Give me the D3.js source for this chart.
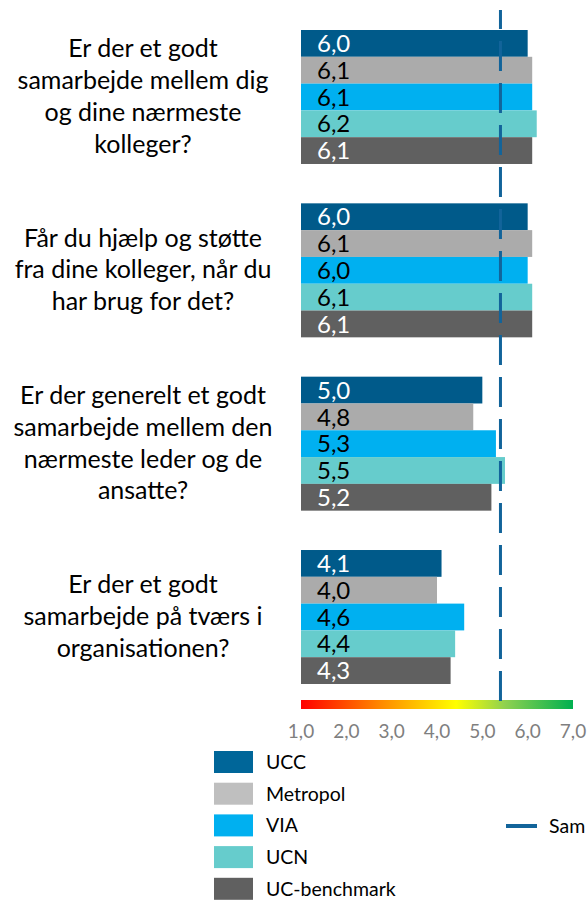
<!DOCTYPE html>
<html>
<head>
<meta charset="utf-8">
<script src="https://cdn.jsdelivr.net/npm/d3@7"></script>
<style>
    body { margin: 0; background: #fff; overflow: hidden; }
    svg { display: block; font-family: Lato, "Open Sans", sans-serif; }
    .question { font-size: 25px; fill: #000; }
    .bar-label { font-size: 24px; }
    .tick-label { font-size: 19px; fill: #7f7f7f; }
    .legend-label { font-size: 19.5px; fill: #000; }
</style>
</head>
<body>
<div class="chart"></div>
<script>
// data
const questions = [
    ["Er der et godt", "samarbejde mellem dig", "og dine nærmeste", "kolleger?"],
    ["Får du hjælp og støtte", "fra dine kolleger, når du", "har brug for det?"],
    ["Er der generelt et godt", "samarbejde mellem den", "nærmeste leder og de", "ansatte?"],
    ["Er der et godt", "samarbejde på tværs i", "organisationen?"]
]
const series = ["UCC", "Metropol", "VIA", "UCN", "UC-benchmark"]
const ucc = [6.0, 6.0, 5.0, 4.1]
const metropol = [6.1, 6.1, 4.8, 4.0]
const via = [6.1, 6.0, 5.3, 4.6]
const ucn = [6.2, 6.1, 5.5, 4.4]
const benchmark = [6.1, 6.1, 5.2, 4.3]
const samlet = 5.4
const samletLabel = "Sam"
const ticks = [1, 2, 3, 4, 5, 6, 7]

const values = [ucc, metropol, via, ucn, benchmark]

const barColors = ["#005a8a", "#ababab", "#00b0f0", "#66cccc", "#606060"]
const legendColors = ["#006699", "#bfbfbf", "#00b0f0", "#66cccc", "#606060"]
const labelColors = ["#fff", "#000", "#000", "#000", "#fff"]

const width = 587, height = 904

const svg = d3.select(".chart").append("svg")
    .attr("width", width)
    .attr("height", height)

const x = d3.scaleLinear()
    .domain([1, 7])
    .range([301, 573])

const yGroup = d3.scaleBand()
    .domain(d3.range(questions.length))
    .range([30, 684])
    .paddingInner(0.227)
    .paddingOuter(0)

const ySeries = d3.scaleBand()
    .domain(series)
    .range([0, yGroup.bandwidth()])
    .padding(0)

const fmt = v => d3.format(".1f")(v).replace(".", ",")

// question texts, centred next to each group
questions.forEach(function(lines, qi){
    const lineHeight = 31.7
    const cy = yGroup(qi) + yGroup.bandwidth() / 2
    const first = cy - (lines.length - 1) * lineHeight / 2 + 8
    const t = svg.append("text")
        .attr("class", "question")
        .attr("text-anchor", "middle")
    lines.forEach(function(l, li){
        t.append("tspan")
            .attr("x", 143)
            .attr("y", first + li * lineHeight)
            .text(l)
    })
})

// bars
const groups = svg.selectAll(".group")
    .data(questions.map((q, qi) => qi))
    .join("g")
    .attr("class", "group")
    .attr("transform", d => "translate(0," + yGroup(d) + ")")

series.forEach(function(s, si){
    groups.append("rect")
        .attr("x", x(1))
        .attr("y", ySeries(s))
        .attr("width", d => x(values[si][d]) - x(1))
        .attr("height", ySeries.bandwidth())
        .style("fill", barColors[si])

    groups.append("text")
        .attr("class", "bar-label")
        .attr("x", 317)
        .attr("y", ySeries(s) + ySeries.bandwidth() / 2)
        .attr("dy", "0.36em")
        .style("fill", labelColors[si])
        .text(d => fmt(values[si][d]))
})

// colour scale bar under the bars
const grad = svg.append("defs").append("linearGradient")
    .attr("id", "scale-grad")
grad.append("stop").attr("offset", "0%").attr("stop-color", "#ff0000")
grad.append("stop").attr("offset", "30%").attr("stop-color", "#ff8c00")
grad.append("stop").attr("offset", "57%").attr("stop-color", "#ffff00")
grad.append("stop").attr("offset", "75%").attr("stop-color", "#8fd14f")
grad.append("stop").attr("offset", "100%").attr("stop-color", "#00b050")

svg.append("rect")
    .attr("x", x(1))
    .attr("y", 700)
    .attr("width", x(7) - x(1))
    .attr("height", 9)
    .style("fill", "url(#scale-grad)")

svg.selectAll(".tick-label")
    .data(ticks)
    .join("text")
    .attr("class", "tick-label")
    .attr("x", d => x(d))
    .attr("y", 738)
    .attr("text-anchor", "middle")
    .text(d => fmt(d))

// dashed reference line
svg.append("line")
    .attr("x1", x(samlet))
    .attr("x2", x(samlet))
    .attr("y1", 10)
    .attr("y2", 705)
    .style("stroke", "#12649a")
    .style("stroke-width", 3)
    .style("stroke-dasharray", "30,12")
    .style("stroke-dashoffset", 11)

// legend
const legendY = d3.scaleBand()
    .domain(series)
    .range([751, 751 + 5 * 31.7])

const legend = svg.selectAll(".legend")
    .data(series)
    .join("g")
    .attr("class", "legend")
    .attr("transform", d => "translate(214," + legendY(d) + ")")

legend.append("rect")
    .attr("width", 39)
    .attr("height", 22)
    .style("fill", (d, i) => legendColors[i])

legend.append("text")
    .attr("class", "legend-label")
    .attr("x", 52)
    .attr("y", 11)
    .attr("dy", "0.36em")
    .text(d => d)

svg.append("line")
    .attr("x1", 506)
    .attr("x2", 537)
    .attr("y1", 826)
    .attr("y2", 826)
    .style("stroke", "#12649a")
    .style("stroke-width", 4)

svg.append("text")
    .attr("class", "legend-label")
    .attr("x", 549)
    .attr("y", 826)
    .attr("dy", "0.36em")
    .text(samletLabel)
</script>
</body>
</html>
